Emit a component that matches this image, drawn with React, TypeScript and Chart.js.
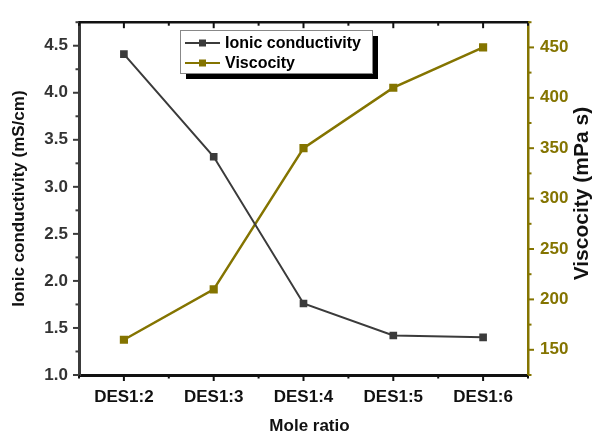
import React, { useEffect, useRef } from "react";
import { Chart, registerables } from "chart.js";

Chart.register(...registerables);

const categories = ["DES1:2", "DES1:3", "DES1:4", "DES1:5", "DES1:6"];
const ionicConductivity = [4.41, 3.32, 1.76, 1.42, 1.40];
const viscosity = [160, 210, 350, 410, 450];
const leftTickStep = 0.5;
const rightTickStep = 50;
const xTitle = "Mole ratio";
const leftTitle = "Ionic conductivity (mS/cm)";
const rightTitle = "Viscocity (mPa s)";

const DARK = "#3b3b3b";
const OLIVE = "#847400";
const FONT = "'Liberation Sans', Arial, sans-serif";

const isMajor = (v: number, step: number) => Math.abs(v / step - Math.round(v / step)) < 1e-6;

const decorPlugin = {
  id: "decor",
  afterDraw(chart: any) {
    const ctx = chart.ctx;
    const a = chart.chartArea;
    ctx.save();
    // top frame line
    ctx.strokeStyle = "#111";
    ctx.lineWidth = 2.5;
    ctx.beginPath();
    ctx.moveTo(a.left - 1, a.top);
    ctx.lineTo(a.right + 1, a.top);
    ctx.stroke();
    const drawTicks = (scale: any, step: number, color: string, side: string) => {
      ctx.strokeStyle = color;
      ctx.lineWidth = 2;
      scale.ticks.forEach((t: any) => {
        const v = t.value;
        const major = isMajor(v, step);
        const len = major ? 6 : 3.5;
        const p = scale.getPixelForValue(v);
        ctx.beginPath();
        if (side === "bottom") {
          ctx.moveTo(p, a.bottom);
          ctx.lineTo(p, a.bottom + len);
        } else if (side === "top") {
          ctx.moveTo(p, a.top);
          ctx.lineTo(p, a.top + len);
        } else if (side === "left") {
          ctx.moveTo(a.left, p);
          ctx.lineTo(a.left - len, p);
        } else {
          ctx.moveTo(a.right, p);
          ctx.lineTo(a.right + len, p);
        }
        ctx.stroke();
      });
    };
    drawTicks(chart.scales.x, 1, "#111", "bottom");
    drawTicks(chart.scales.x, 1, "#111", "top");
    drawTicks(chart.scales.y, leftTickStep, DARK, "left");
    drawTicks(chart.scales.y2, rightTickStep, OLIVE, "right");

    // axis titles
    ctx.fillStyle = "#111";
    ctx.textAlign = "center";
    ctx.textBaseline = "middle";
    ctx.font = `bold 17px ${FONT}`;
    ctx.fillText(xTitle, (a.left + a.right) / 2 + 6, 426);
    const cy = (a.top + a.bottom) / 2;
    ctx.save();
    ctx.translate(19, cy);
    ctx.rotate(-Math.PI / 2);
    ctx.font = `bold 17px ${FONT}`;
    ctx.fillText(leftTitle, 0, 0);
    ctx.restore();
    ctx.save();
    ctx.translate(582, cy - 5);
    ctx.rotate(-Math.PI / 2);
    ctx.font = `bold 21px ${FONT}`;
    ctx.fillText(rightTitle, 0, 0);
    ctx.restore();

    // legend
    const lx = 180, ly = 30, lw = 192, lh = 43;
    ctx.fillStyle = "#000";
    ctx.fillRect(lx + 6, ly + 6, lw, lh);
    ctx.fillStyle = "#fff";
    ctx.fillRect(lx, ly, lw, lh);
    ctx.strokeStyle = "#888";
    ctx.lineWidth = 1;
    ctx.strokeRect(lx + 0.5, ly + 0.5, lw, lh);
    chart.data.datasets.forEach((ds: any, i: number) => {
      const y = ly + 13 + i * 20;
      ctx.strokeStyle = ds.borderColor;
      ctx.lineWidth = 2;
      ctx.beginPath();
      ctx.moveTo(lx + 5, y);
      ctx.lineTo(lx + 40, y);
      ctx.stroke();
      ctx.fillStyle = ds.backgroundColor;
      ctx.fillRect(lx + 19, y - 3.5, 7, 7);
      ctx.fillStyle = "#000";
      ctx.font = `bold 16px ${FONT}`;
      ctx.textBaseline = "middle";
      ctx.textAlign = "left";
      ctx.fillText(ds.label, lx + 45, y + 1);
    });
    ctx.restore();
  },
};

export default function App() {
  const ref = useRef<HTMLCanvasElement>(null);
  useEffect(() => {
    document.body.style.margin = "0";
    const chart = new Chart(ref.current!, {
      type: "line",
      data: {
        datasets: [
          {
            label: "Ionic conductivity",
            data: ionicConductivity.map((v, i) => ({ x: i, y: v })),
            borderColor: DARK,
            backgroundColor: DARK,
            borderWidth: 2,
            pointStyle: "rect",
            pointRadius: 4,
            yAxisID: "y",
          },
          {
            label: "Viscocity",
            data: viscosity.map((v, i) => ({ x: i, y: v })),
            borderColor: OLIVE,
            backgroundColor: OLIVE,
            borderWidth: 2.5,
            pointStyle: "rect",
            pointRadius: 4,
            yAxisID: "y2",
          },
        ],
      },
      options: {
        animation: false,
        responsive: false,
        layout: { padding: { top: 14, left: 0, right: 0, bottom: 0 } },
        plugins: { legend: { display: false }, tooltip: { enabled: false } },
        scales: {
          x: {
            type: "linear",
            min: -0.5,
            max: 4.5,
            grid: { display: false, drawTicks: false },
            border: { color: "#111", width: 3 },
            ticks: {
              stepSize: 0.5,
              autoSkip: false,
              maxRotation: 0,
              padding: 12,
              color: "#111",
              font: { family: FONT, size: 17, weight: "bold" },
              callback: (v: any) => (Number.isInteger(v) ? categories[v] : ""),
            },
            afterFit: (s: any) => {
              s.height = 59;
            },
          },
          y: {
            position: "left",
            min: 1.0,
            max: 4.75,
            grid: { display: false, drawTicks: false },
            border: { color: DARK, width: 3 },
            ticks: {
              stepSize: 0.25,
              autoSkip: false,
              padding: 11,
              color: "#333",
              font: { family: FONT, size: 17, weight: "bold" },
              callback: (v: any) => (isMajor(v, leftTickStep) && v < 4.7 ? Number(v).toFixed(1) : ""),
            },
            afterFit: (s: any) => {
              s.width = 79;
            },
          },
          y2: {
            position: "right",
            min: 125,
            max: 475,
            grid: { display: false, drawTicks: false },
            border: { color: OLIVE, width: 2.5 },
            ticks: {
              stepSize: 25,
              autoSkip: false,
              padding: 12,
              color: OLIVE,
              font: { family: FONT, size: 17, weight: "bold" },
              callback: (v: any) => (isMajor(v, rightTickStep) && v < 470 ? String(v) : ""),
            },
            afterFit: (s: any) => {
              s.width = 65;
            },
          },
        },
      },
      plugins: [decorPlugin],
    } as any);
    return () => chart.destroy();
  }, []);
  return (
    <div style={{ width: 593, height: 434 }}>
      <canvas ref={ref} width={593} height={434} />
    </div>
  );
}
